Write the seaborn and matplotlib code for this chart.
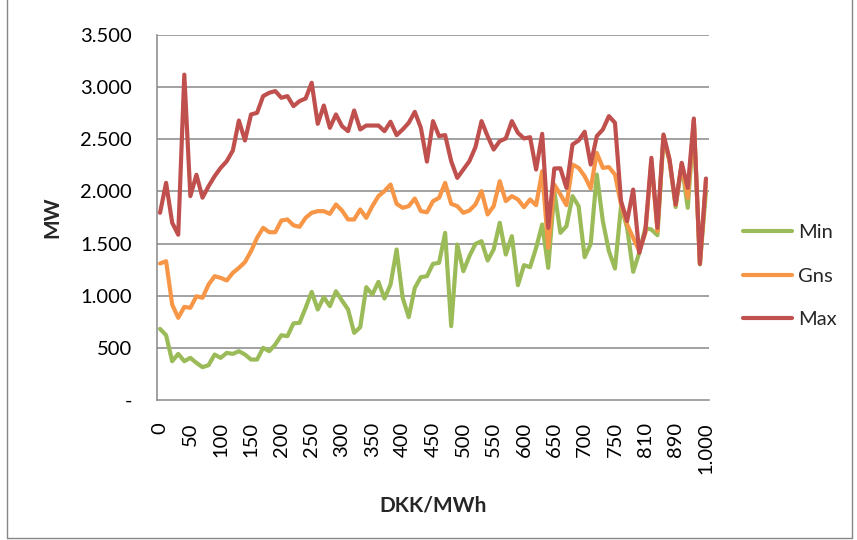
import matplotlib
matplotlib.use("Agg")
import matplotlib.pyplot as plt
from matplotlib.lines import Line2D
import numpy as np
import pandas as pd
import seaborn as sns

# Price steps (DKK/MWh)
prices = list(range(0, 760, 10)) + [760, 770, 780, 790, 810, 820, 840, 850, 870,
                                     890, 900, 920, 950, 980, 1000]

# Regulating capacity per price step (MW)
mw_min = [682, 621, 372, 442, 372, 404, 356, 315, 334, 436,
          404, 452, 442, 468, 436, 388, 388, 500, 468, 532,
          621, 612, 735, 740, 884, 1037, 868, 986, 900, 1043,
          954, 868, 644, 698, 1082, 1011, 1133, 973, 1107, 1443,
          980, 794, 1075, 1178, 1187, 1306, 1315, 1603, 708, 1491,
          1235, 1379, 1497, 1523, 1338, 1443, 1699, 1395, 1571, 1101,
          1293, 1274, 1459, 1683, 1267, 2003, 1603, 1667, 1955, 1859,
          1370, 1497, 2162, 1715, 1427, 1261, 1860, 1651, 1229, 1411,
          1650, 1635, 1580, 2520, 2290, 1850, 2260, 1843, 2650, 1300,
          2000]

mw_gns = [1309, 1331, 916, 788, 893, 884, 995, 980, 1107, 1187,
          1171, 1146, 1219, 1267, 1322, 1427, 1555, 1651, 1609, 1609,
          1721, 1731, 1675, 1661, 1747, 1795, 1811, 1811, 1785, 1875,
          1817, 1731, 1731, 1827, 1747, 1859, 1955, 2003, 2066, 1881,
          1843, 1859, 1932, 1811, 1800, 1907, 1939, 2082, 1881, 1859,
          1795, 1817, 1875, 2003, 1779, 1859, 2098, 1907, 1955, 1923,
          1849, 1923, 1868, 2194, 1459, 2066, 1971, 1868, 2258, 2226,
          2146, 2028, 2370, 2226, 2233, 2162, 1875, 1683, 1555, 1427,
          1600, 2290, 1620, 2530, 2290, 1870, 2260, 1939, 2680, 1310,
          2100]

mw_max = [1795, 2082, 1700, 1585, 3120, 1955, 2160, 1940, 2050, 2146,
          2226, 2290, 2392, 2680, 2488, 2738, 2754, 2914, 2946, 2962,
          2898, 2914, 2818, 2866, 2891, 3042, 2648, 2824, 2610, 2738,
          2626, 2578, 2776, 2594, 2632, 2632, 2632, 2578, 2668, 2540,
          2594, 2658, 2763, 2610, 2286, 2674, 2530, 2540, 2290, 2130,
          2210, 2290, 2425, 2674, 2530, 2402, 2482, 2508, 2674, 2562,
          2508, 2520, 2210, 2552, 1651, 2220, 2222, 2034, 2450, 2488,
          2572, 2258, 2530, 2594, 2722, 2658, 1907, 1715, 2018, 1411,
          1619, 2322, 1651, 2546, 2306, 1875, 2274, 2034, 2699, 1306,
          2124]

series_names = ["Min", "Gns", "Max"]
colors = {"Min": "#9BBB59", "Gns": "#F79646", "Max": "#C0504D"}
y_ticks = [0, 500, 1000, 1500, 2000, 2500, 3000, 3500]


def dk_number(v, zero="-"):
    if v == 0:
        return zero
    return f"{v:,.0f}".replace(",", ".")


n = len(prices)
pos = np.arange(n)
df = pd.concat([
    pd.DataFrame({"pos": pos, "MW": vals, "Serie": name})
    for name, vals in zip(series_names, [mw_min, mw_gns, mw_max])
], ignore_index=True)

sns.set_style("white")
plt.rcParams["font.family"] = ["Lato", "DejaVu Sans"]

fig = plt.figure(figsize=(8.57, 5.40), dpi=100)
ax = fig.add_axes([157 / 857, 1 - 400 / 540, 552 / 857, 365 / 540])

sns.lineplot(data=df, x="pos", y="MW", hue="Serie", hue_order=series_names,
             palette=colors, linewidth=3.0, legend=False, errorbar=None,
             ax=ax)
for ln in ax.get_lines():
    ln.set_solid_joinstyle("round")
    ln.set_solid_capstyle("round")

grid_c = "#878787"
ax.set_ylim(0, 3500)
ax.set_xlim(-0.5, n - 0.5)
ax.set_yticks(y_ticks)
ax.set_yticklabels([dk_number(v) for v in y_ticks])
for v in y_ticks[1:]:
    ax.axhline(v, color=grid_c, linewidth=1.1, zorder=0)

# category boundaries carry the tick marks, labels sit on every 5th category
ax.set_xticks(np.arange(-0.5, n - 1, 5))
ax.set_xticklabels([])
ax.set_xticks(pos[::5], minor=True)
ax.set_xticklabels([dk_number(prices[i], zero="0") for i in pos[::5]],
                   minor=True, rotation=90, va="top", ha="center")
ax.tick_params(axis="x", which="major", length=4.5, width=1.1, color=grid_c,
               direction="out")
ax.tick_params(axis="x", which="minor", length=0, pad=16, labelsize=14.5,
               labelcolor="#000000")
ax.tick_params(axis="y", length=10, width=1.1, color=grid_c, direction="out",
               pad=8, labelsize=14.5, labelcolor="#000000")

for side in ["top", "right"]:
    ax.spines[side].set_visible(False)
for side in ["left", "bottom"]:
    ax.spines[side].set_color(grid_c)
    ax.spines[side].set_linewidth(1.1)

ax.set_xlabel("DKK/MWh", fontsize=15, fontweight="bold")
ax.set_ylabel("MW", fontsize=15, fontweight="bold")
ax.xaxis.set_label_coords(0.5, (400 - 505) / 365)
ax.xaxis.label.set_va("center")
ax.yaxis.set_label_coords((52 - 157) / 552, 0.5)
ax.yaxis.label.set_va("center")

handles = [Line2D([0], [0], color=colors[s], linewidth=3.0,
                  solid_capstyle="round") for s in series_names]
fig.legend(handles, series_names, loc="center left",
           bbox_to_anchor=(743 / 857, 1 - 276 / 540), frameon=False,
           fontsize=14.5, handlelength=2.45, handletextpad=0.3,
           labelspacing=1.3, borderpad=0, borderaxespad=0)

# chart area frame
frame_c = "#868686"
fx0, fx1, fy0 = 7.5 / 857, 851.5 / 857, 1 - 537.5 / 540
fig.add_artist(Line2D([fx0, fx0], [fy0, 1.01], color=frame_c, linewidth=1.0))
fig.add_artist(Line2D([fx1, fx1], [fy0, 1.01], color=frame_c, linewidth=1.0))
fig.add_artist(Line2D([fx0, fx1], [fy0, fy0], color=frame_c, linewidth=1.0))

fig.savefig("out.png", dpi=100)
